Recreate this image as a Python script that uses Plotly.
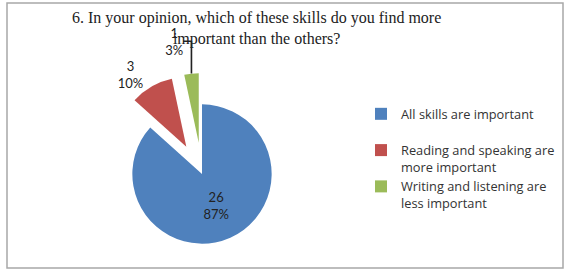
import plotly.graph_objects as go

labels = ["All skills are important<br> ",
          "Reading and speaking are<br>more important",
          "Writing and listening are<br>less important"]
values = [26, 3, 1]
colors = ["#4F81BD", "#C0504D", "#9BBB59"]
pulls = [0, 0.45, 0.45]
title_text = "6. In your opinion, which of these skills do you find more<br>important than the others?"

W, H = 571, 276
cx, cy, box = 202, 174, 202  # pixel center and square box size of the pie domain

fig = go.Figure(go.Pie(
    labels=labels,
    values=values,
    sort=False,
    direction="clockwise",
    rotation=0,
    pull=pulls,
    marker=dict(colors=colors, line=dict(width=0)),
    texttemplate="%{value}<br>%{percent:.0%}",
    textposition=["inside", "outside", "outside"],
    insidetextorientation="horizontal",
    textfont=dict(family="Lato", size=13, color="#222222"),
    domain=dict(x=[(cx - box / 2) / W, (cx + box / 2) / W],
                y=[max(0, (H - cy - box / 2) / H), (H - cy + box / 2) / H]),
    hoverinfo="label+value+percent",
))

fig.update_layout(
    width=W, height=H,
    margin=dict(l=0, r=0, t=0, b=0, autoexpand=False),
    paper_bgcolor="white",
    plot_bgcolor="white",
    showlegend=True,
    legend=dict(
        x=361 / W, y=1 - 99 / H, xanchor="left", yanchor="top",
        valign="top",
        font=dict(family="Open Sans", size=12.8, color="#333333"),
        bgcolor="rgba(0,0,0,0)",
    ),
    annotations=[dict(
        text=title_text, x=256 / W, y=1 - 7 / H, xref="paper", yref="paper",
        xanchor="center", yanchor="top", showarrow=False, align="center",
        font=dict(family="Liberation Serif", size=16, color="#222222"),
    )],
    shapes=[dict(type="rect", xref="paper", yref="paper",
                 x0=7 / W, x1=563 / W, y0=(H - 268) / H, y1=(H - 3) / H,
                 line=dict(color="#a8a8a8", width=1.5), fillcolor="rgba(0,0,0,0)")],
)

fig.write_html("out.html")
